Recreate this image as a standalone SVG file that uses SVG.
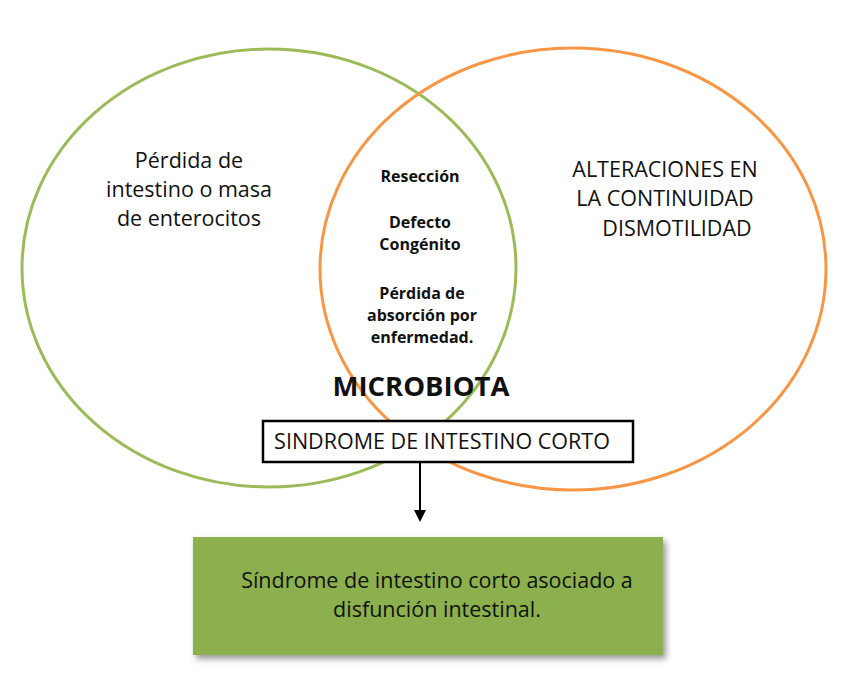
<svg xmlns="http://www.w3.org/2000/svg" width="841" height="674" viewBox="0 0 841 674">
<defs>
<style>
.t{font-family:"Open Sans","Liberation Sans",sans-serif;fill:#111;text-anchor:middle}
.b{font-weight:bold;font-size:16px}
.n{font-size:21.5px}
</style>
<marker id="ah" markerWidth="12" markerHeight="12" refX="6" refY="6" orient="auto" markerUnits="userSpaceOnUse"><path d="M0,0 L12,6 L0,12 z" fill="#000"/></marker>
<filter id="sh" x="-5%" y="-5%" width="115%" height="120%"><feDropShadow dx="3" dy="4" stdDeviation="3" flood-color="#000" flood-opacity="0.4"/></filter>
</defs>
<rect width="841" height="674" fill="#fff"/>
<g id="green-circle"><ellipse cx="269" cy="268" rx="247" ry="219" fill="none" stroke="#9bbb59" stroke-width="3"/>
<text class="t n" x="189" y="168">Pérdida de</text><text class="t n" x="189" y="197">intestino o masa</text><text class="t n" x="189" y="226">de enterocitos</text></g>
<g id="orange-circle"><ellipse cx="573" cy="269" rx="253" ry="221" fill="none" stroke="#f79646" stroke-width="3"/>
<text class="t n" x="665" y="177">ALTERACIONES EN</text><text class="t n" x="665" y="206">LA CONTINUIDAD</text><text class="t n" x="677" y="236">DISMOTILIDAD</text></g>
<g id="overlap"><text class="t b" x="420" y="182">Resección</text>
<text class="t b" x="420" y="228">Defecto</text><text class="t b" x="420" y="250">Congénito</text>
<text class="t b" x="422" y="299">Pérdida de</text><text class="t b" x="422" y="321">absorción por</text><text class="t b" x="422" y="343">enfermedad.</text></g>
<g id="microbiota"><text class="t" x="421" y="396" font-size="27.5" font-weight="bold">MICROBIOTA</text></g>
<g id="sic"><rect x="263" y="421" width="370" height="41" fill="#fff" stroke="#000" stroke-width="2.5"/>
<text class="t n" x="442" y="449">SINDROME DE INTESTINO CORTO</text></g>
<g id="connectors"><line x1="420" y1="463" x2="420" y2="516" stroke="#000" stroke-width="2" marker-end="url(#ah)"/></g>
<g id="result"><rect x="193" y="537" width="470" height="118" fill="#8db050" filter="url(#sh)"/>
<text class="t n" x="437" y="588">Síndrome de intestino corto asociado a</text><text class="t n" x="437" y="617">disfunción intestinal.</text></g>
</svg>
